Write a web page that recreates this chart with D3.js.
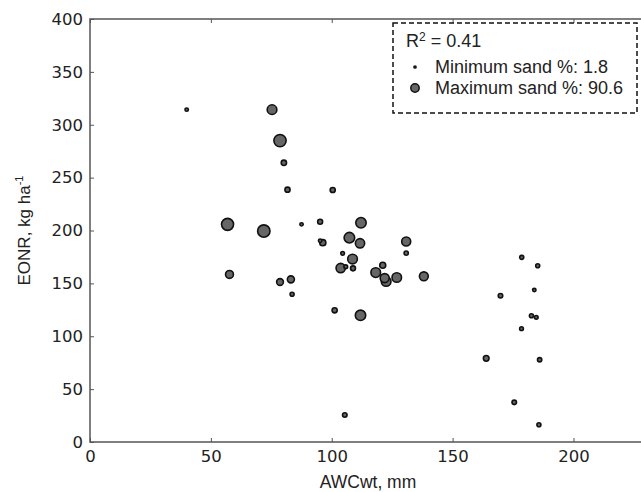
<!DOCTYPE html>
<html>
<head>
<meta charset="utf-8">
<script src="https://cdn.jsdelivr.net/npm/d3@7"></script>
<style>
  body { margin: 0; background: #fff; }
  svg { display: block; }
</style>
</head>
<body>
<svg class="chart_svg"></svg>
<script>
// AWCwt (mm), EONR (kg/ha) and sand % per site
const awc = [40.0, 75.3, 78.6, 80.2, 81.7, 100.4, 56.9, 71.9, 87.5, 95.2,
  112.1, 107.3, 111.7, 95.2, 96.3, 104.5, 108.6, 103.7, 105.8, 108.8,
  121.1, 118.2, 121.9, 122.5, 126.9, 57.7, 78.6, 83.1, 83.6, 101.2,
  111.9, 130.8, 130.8, 138.1, 178.6, 185.2, 183.8, 169.8, 182.6, 184.6,
  178.5, 163.9, 186.0, 175.5, 185.7, 105.4];
const eonr = [314.3, 314.3, 285.0, 264.0, 238.6, 238.3, 205.8, 199.5, 205.8, 208.3,
  207.3, 193.2, 187.9, 190.3, 188.5, 178.4, 173.0, 164.5, 165.7, 164.2,
  167.1, 160.2, 155.0, 151.8, 155.6, 158.5, 151.3, 153.8, 139.7, 124.5,
  119.8, 189.6, 178.6, 156.7, 174.6, 166.7, 143.7, 138.3, 119.4, 117.9,
  107.2, 79.1, 77.8, 37.5, 16.3, 25.5];
const sand = [2, 50, 88, 10, 9, 9, 85, 90.6, 2, 8,
  60, 62, 45, 2, 15, 3, 50, 45, 3, 8,
  14, 50, 42, 50, 48, 30, 20, 22, 4, 9,
  60, 42, 5, 40, 4, 4, 2, 6, 4, 3,
  3, 12, 5, 6, 4, 6];

const xTicks = [0, 50, 100, 150, 200];
const yTicks = [0, 50, 100, 150, 200, 250, 300, 350, 400];
const legendRows = ["Minimum sand %: 1.8", "Maximum sand %: 90.6"];
const legendSand = [1.8, 90.6];

var margin = { top: 19, right: -5, bottom: 50, left: 90 },
  W = 641, H = 492,
  w = W - margin.left - margin.right,
  h = H - margin.top - margin.bottom;

var svg = d3.select(".chart_svg").attr("width", W).attr("height", H);
var g = svg.append("g").attr("transform", `translate(${margin.left}, ${margin.top})`);

var x = d3.scaleLinear().domain([0, 230]).range([0, w]);
var y = d3.scaleLinear().domain([0, 400]).range([h, 0]);
var r = d3.scaleSqrt().domain([0, 90.6]).range([0.9, 6.2]);

const tickFont = "'DejaVu Sans', sans-serif";
const labelFont = "'Liberation Sans', Arial, sans-serif";

// ticks point inward on all four sides (old matplotlib look)
function styleAxis(sel) {
  sel.select(".domain").remove();
  sel.selectAll(".tick line").attr("stroke", "#555").attr("stroke-width", 1);
  sel.selectAll("text").attr("fill", "#222").style("font-family", tickFont).style("font-size", "16.5px");
}

g.append("g").attr("transform", `translate(0,${h})`)
  .call(d3.axisBottom(x).tickValues(xTicks).tickFormat(d3.format("d")).tickSizeInner(-4).tickPadding(8))
  .call(styleAxis);
g.append("g")
  .call(d3.axisTop(x).tickValues(xTicks).tickFormat("").tickSizeInner(-4))
  .call(styleAxis);
g.append("g")
  .call(d3.axisLeft(y).tickValues(yTicks).tickFormat(d3.format("d")).tickSizeInner(-4).tickPadding(7))
  .call(styleAxis);
g.append("g").attr("transform", `translate(${w},0)`)
  .call(d3.axisRight(y).tickValues(yTicks).tickFormat("").tickSizeInner(-4))
  .call(styleAxis);

g.append("rect")
  .attr("width", w).attr("height", h)
  .attr("fill", "none").attr("stroke", "#555").attr("stroke-width", 1.5);

// points, bigger first so small ones stay visible
var idx = d3.range(awc.length).sort((a, b) => sand[b] - sand[a]);
g.selectAll("circle.pt")
  .data(idx)
  .enter()
  .append("circle")
  .attr("class", "pt")
  .attr("cx", i => x(awc[i]))
  .attr("cy", i => y(eonr[i]))
  .attr("r", i => r(sand[i]))
  .attr("fill", "#666")
  .attr("stroke", "#111")
  .attr("stroke-width", 1.6);

// axis labels
svg.append("text")
  .attr("x", margin.left + w / 2).attr("y", 488)
  .attr("text-anchor", "middle")
  .style("font-family", labelFont).style("font-size", "17.5px").attr("fill", "#222")
  .text("AWCwt, mm");

var yl = svg.append("text")
  .attr("transform", `translate(30,${margin.top + h / 2}) rotate(-90)`)
  .attr("text-anchor", "middle")
  .style("font-family", labelFont).style("font-size", "17px").attr("fill", "#222");
yl.append("tspan").text("EONR, kg ha");
yl.append("tspan").attr("dy", -7).style("font-size", "11px").text("-1");

// legend
var lg = svg.append("g");
lg.append("rect")
  .attr("x", 393).attr("y", 23).attr("width", 244).attr("height", 90)
  .attr("fill", "#fff").attr("stroke", "#111").attr("stroke-width", 1.5)
  .attr("stroke-dasharray", "5,3");
var rt = lg.append("text").attr("x", 406).attr("y", 47)
  .style("font-family", labelFont).style("font-size", "18px").attr("fill", "#222");
rt.append("tspan").text("R");
rt.append("tspan").attr("dy", -6).style("font-size", "12px").text("2");
rt.append("tspan").attr("dy", 6).text(" = 0.41");

var legendR = d3.scaleSqrt().domain([0, 90.6]).range([0.6, 4.2]);
legendRows.forEach((t, i) => {
  lg.append("circle")
    .attr("cx", 415).attr("cy", 67 + i * 21)
    .attr("r", legendR(legendSand[i]))
    .attr("fill", "#666").attr("stroke", "#111").attr("stroke-width", 1.5);
  lg.append("text")
    .attr("x", 435).attr("y", 73 + i * 21)
    .style("font-family", labelFont).style("font-size", "18px").attr("fill", "#222")
    .text(t);
});
</script>
</body>
</html>
